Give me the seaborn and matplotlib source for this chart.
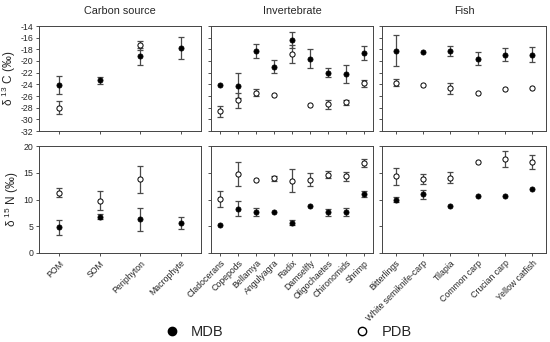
import numpy as np
import pandas as pd
import matplotlib
matplotlib.use("Agg")
import matplotlib.pyplot as plt
import seaborn as sns
from matplotlib.lines import Line2D

# ---- data (mean, sd) ----
carbon_cats = ["POM", "SOM", "Periphyton", "Macrophyte"]
carbon_mdb_c = [-24.1, -23.3, -19.2, -17.8]
carbon_mdb_c_sd = [1.5, 0.6, 1.5, 1.85]
carbon_pdb_c = [-28.0, np.nan, -17.3, np.nan]
carbon_pdb_c_sd = [1.1, np.nan, 0.8, np.nan]
carbon_mdb_n = [4.85, 6.8, 6.3, 5.6]
carbon_mdb_n_sd = [1.4, 0.45, 2.2, 1.2]
carbon_pdb_n = [11.3, 9.8, 13.75, np.nan]
carbon_pdb_n_sd = [0.85, 1.75, 2.5, np.nan]

inv_cats = ["Cladocerans", "Copepods", "Bellamya", "Angulyagra", "Radix",
            "Damselfly", "Oligochaetes", "Chironomids", "Shrimp"]
inv_mdb_c = [-24.1, -24.2, -18.25, -20.95, -16.35, -19.6, -22.0, -22.2, -18.7]
inv_mdb_c_sd = [np.nan, 2.1, 1.2, 1.15, 1.4, 1.6, 0.8, 1.6, 1.2]
inv_pdb_c = [-28.65, -26.75, -25.4, -25.8, -18.8, -27.5, -27.45, -27.1, -23.8]
inv_pdb_c_sd = [1.0, 1.25, 0.6, np.nan, 1.6, np.nan, 0.7, 0.5, 0.6]
inv_mdb_n = [5.15, 8.3, 7.65, 7.65, 5.7, 8.8, 7.6, 7.65, 11.0]
inv_mdb_n_sd = [np.nan, 1.4, 0.7, np.nan, 0.4, np.nan, 0.6, 0.7, 0.5]
inv_pdb_n = [10.15, 14.8, 13.6, 13.95, 13.55, 13.7, 14.6, 14.3, 16.85]
inv_pdb_n_sd = [1.5, 2.25, np.nan, 0.45, 2.1, 1.25, 0.65, 0.9, 0.8]

fish_cats = ["Bitterlings", "White semiknife-carp", "Tilapia", "Common carp",
             "Crucian carp", "Yellow catfish"]
fish_mdb_c = [-18.25, -18.5, -18.25, -19.6, -18.9, -18.9]
fish_mdb_c_sd = [2.65, np.nan, 0.9, 1.1, 1.05, 1.35]
fish_pdb_c = [-23.7, -24.05, -24.7, -25.5, -24.75, -24.7]
fish_pdb_c_sd = [0.65, np.nan, 0.9, np.nan, np.nan, np.nan]
fish_mdb_n = [10.0, 11.0, 8.8, 10.7, 10.7, 12.0]
fish_mdb_n_sd = [0.5, 0.85, np.nan, np.nan, np.nan, np.nan]
fish_pdb_n = [14.35, 13.8, 14.05, 17.0, 17.55, 17.05]
fish_pdb_n_sd = [1.55, 0.9, 1.05, np.nan, 1.5, 1.3]

titles = ["Carbon source", "Invertebrate", "Fish"]

sns.set_style("ticks")
plt.rcParams["font.family"] = ["Liberation Sans", "DejaVu Sans"]
plt.rcParams["axes.unicode_minus"] = False
plt.rcParams["mathtext.fontset"] = "custom"
plt.rcParams["mathtext.rm"] = "Liberation Sans"

fig = plt.figure(figsize=(5.5, 3.42), dpi=100)

W, H = 550, 342
cols_px = [(39, 162), (211, 162), (382, 164)]
rows_px = [(26, 105), (146, 107)]

groups = [
    (carbon_cats, carbon_mdb_c, carbon_mdb_c_sd, carbon_pdb_c, carbon_pdb_c_sd,
     carbon_mdb_n, carbon_mdb_n_sd, carbon_pdb_n, carbon_pdb_n_sd),
    (inv_cats, inv_mdb_c, inv_mdb_c_sd, inv_pdb_c, inv_pdb_c_sd,
     inv_mdb_n, inv_mdb_n_sd, inv_pdb_n, inv_pdb_n_sd),
    (fish_cats, fish_mdb_c, fish_mdb_c_sd, fish_pdb_c, fish_pdb_c_sd,
     fish_mdb_n, fish_mdb_n_sd, fish_pdb_n, fish_pdb_n_sd),
]

err_col = "#4a4a4a"


def draw(ax, cats, mdb, mdb_sd, pdb, pdb_sd):
    x = np.arange(len(cats))
    for vals, sds in [(pdb, pdb_sd), (mdb, mdb_sd)]:
        v = np.array(vals, float)
        s = np.array(sds, float)
        ok = ~np.isnan(v) & ~np.isnan(s)
        ax.errorbar(x[ok], v[ok], yerr=s[ok], fmt="none", ecolor=err_col,
                    elinewidth=0.9, capsize=2.2, capthick=0.9, zorder=2)
    df = pd.DataFrame({"x": np.concatenate([x, x]),
                       "y": np.concatenate([pdb, mdb]),
                       "site": ["PDB"] * len(x) + ["MDB"] * len(x)}).dropna()
    sns.scatterplot(data=df[df.site == "PDB"], x="x", y="y", ax=ax, s=14,
                    color="white", edgecolor="black", linewidth=0.7, zorder=3)
    sns.scatterplot(data=df[df.site == "MDB"], x="x", y="y", ax=ax, s=14,
                    color="black", edgecolor="black", linewidth=0.5, zorder=4)
    ax.set_xlim(-0.5, len(cats) - 0.5)
    ax.set_xticks(x)
    ax.set_xlabel("")
    ax.set_ylabel("")


for j, g in enumerate(groups):
    cats = g[0]
    for i in range(2):
        l, w = cols_px[j]
        t, h = rows_px[i]
        ax = fig.add_axes([l / W, 1 - (t + h) / H, w / W, h / H])
        if i == 0:
            draw(ax, cats, g[1], g[2], g[3], g[4])
            ax.set_ylim(-32, -14)
            ax.set_yticks(np.arange(-32, -13, 2))
            ax.set_xticklabels([])
            ax.set_title(titles[j], fontsize=7.8, pad=9)
        else:
            draw(ax, cats, g[5], g[6], g[7], g[8])
            ax.set_ylim(0, 20)
            ax.set_yticks([0, 5, 10, 15, 20])
            ax.set_xticklabels(cats, rotation=45, ha="right",
                               rotation_mode="anchor", fontsize=6.3)
        if j > 0:
            ax.set_yticklabels([])
        else:
            ax.tick_params(axis="y", labelsize=6.3)
            ax.set_ylabel("δ $^{13}$ C (‰)" if i == 0 else "δ $^{15}$ N (‰)",
                          fontsize=8.5, labelpad=2)
        ax.tick_params(length=2.5, width=0.6, pad=1.5, color="#333333")
        for sp in ax.spines.values():
            sp.set_linewidth(0.7)
            sp.set_color("#444444")

handles = [Line2D([], [], marker="o", ls="none", color="black", markersize=6),
           Line2D([], [], marker="o", ls="none", markerfacecolor="white",
                  markeredgecolor="black", markersize=6)]
fig.legend(handles, ["MDB", "PDB"], loc="center", ncol=2,
           bbox_to_anchor=(0.524, 0.03), frameon=False, fontsize=10.5,
           handlelength=1, handletextpad=0.8, columnspacing=9)

fig.savefig("out.png", dpi=100)
